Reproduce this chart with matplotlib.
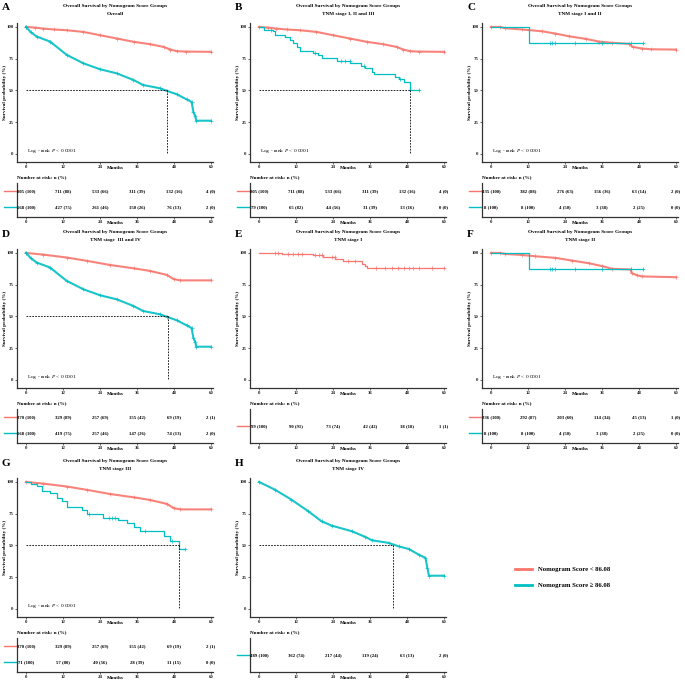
import matplotlib
matplotlib.use("Agg")
import matplotlib.pyplot as plt
from matplotlib.lines import Line2D

plt.rcParams['font.family'] = ['Liberation Serif', 'DejaVu Serif']
plt.rcParams['mathtext.fontset'] = 'custom'
plt.rcParams['mathtext.it'] = 'Liberation Serif:italic'
plt.rcParams['mathtext.rm'] = 'Liberation Serif'

RED = "#F8766D"
CYAN = "#00BFC4"
W, H = 685, 683

TITLE = "Overall Survival by Nomogram Score Groups"
months = [0, 12, 24, 36, 48, 60]

# survival curves (months, survival %)
a_low_t = [0, 3, 5.6, 9, 13.2, 18.6, 24, 29.5, 34.9, 40.3, 44.6, 46.8, 49, 52, 60]
a_low_s = [100, 99.5, 98.7, 98, 97.4, 96.1, 93.5, 90.9, 88.3, 86.4, 84.3, 82.2, 80.9, 80.6, 80.4]

a_high_t = [0, 1.5, 3.5, 7.8, 13.2, 18.6, 24, 29.4, 34.8, 38, 43.5, 45.6, 48.9, 52.1, 53.7, 54.3, 54.9, 55.2, 60]
a_high_s = [100, 96, 92.4, 88.5, 78, 71.4, 66.7, 63.5, 58.3, 54.3, 51.7, 49.8, 47, 43, 41, 33, 30, 26.2, 26.2]

b_high_t = [0, 1.5, 4.4, 5.1, 8.4, 10, 11, 12.2, 13.3, 17.6, 19.2, 20.3, 25.2, 29.6, 33, 34.5, 36.6, 37.2,
            44.2, 45.3, 47, 49.1, 51.8]
b_high_s = [100, 97.9, 96.5, 94, 92, 89.5, 87, 84.3, 81.2, 79.6, 77.8, 75.2, 73.4, 71.3, 69.2, 67.4, 64.8, 62.9,
            60.8, 59, 56.9, 50.4, 50.4]
b_high_cens = [4, 18, 26.5, 28, 29.5, 34, 45.8, 51.8]

c_low_t = [0, 2.9, 4.6, 10, 16.5, 20.9, 25.2, 30.7, 35, 39.3, 44.8, 45.9, 49.1, 52, 60]
c_low_s = [100, 100, 99, 98, 96.6, 94.8, 92.7, 90.6, 88.5, 87.5, 86.7, 84.3, 83, 82.4, 82.2]

c_high_t = [0, 12.2, 49.3]
c_high_s = [100, 87.5, 87.5]
c_high_cens = [19.2, 19.8, 20.6, 27.4, 36, 45.3, 49.3]

d_low_t = [0, 5.6, 13.2, 19.7, 27.3, 34.9, 40.3, 45.7, 47.9, 50, 60]
d_low_s = [100, 98.7, 96.4, 93.8, 90.5, 87.9, 85.8, 82.7, 79.4, 78.4, 78.4]

e_low_t = [0, 7.3, 17.6, 20.9, 24.7, 27.4, 33.4, 34.5, 35, 60]
e_low_s = [100, 99, 98.2, 97.1, 95.3, 94, 91.4, 90, 88.3, 88.3]
e_low_cens = [5.1, 6.2, 9.5, 11, 12.5, 13.8, 18, 19.5, 20.3, 23.6, 24.5, 29, 31, 38, 41, 43, 45, 47, 48.5, 50, 52, 56, 60]

f_low_t = [0, 2.9, 4.6, 10, 14.3, 20.9, 26.3, 31.7, 36.1, 39.3, 45.3, 45.6, 47.5, 49.1, 60]
f_low_s = [100, 100, 99.2, 98.4, 97.4, 96.1, 94, 91.9, 89.6, 87.5, 87, 84.1, 82.3, 81.5, 80.9]

g_high_t = [0, 1.5, 3.5, 5.1, 7.8, 10, 11.6, 13.2, 18.1, 19.7, 25.1, 30, 32.7, 34.9, 37, 44.6, 46.8, 49.5, 51.7]
g_high_s = [100, 98.7, 96.9, 92.9, 91.6, 87.2, 85.1, 80.6, 78, 74.6, 72, 70.2, 67.5, 64.9, 61.5, 57.6, 53.7,
            47.6, 47.6]
g_high_cens = [20.5, 27, 28, 29, 38.5, 47.5, 51.7]

h_high_t = [0, 5.1, 10.5, 16, 20.3, 23.6, 30.1, 34.5, 36.6, 42.1, 45.3, 48.6, 51.8, 54, 54.6, 55.1, 60]
h_high_s = [100, 94, 86.1, 76.9, 69, 65.6, 61.2, 56.7, 54.1, 52, 49.3, 47.2, 42.8, 40.2, 32.3, 26.2, 26.2]

# number at risk tables
risk_a_low = ["805 (100)", "711 (88)", "533 (66)", "311 (39)", "132 (16)", "4 (0)"]
risk_a_high = ["568 (100)", "427 (75)", "261 (46)", "150 (26)", "76 (13)", "2 (0)"]
risk_b_high = ["79 (100)", "65 (82)", "44 (56)", "31 (39)", "13 (16)", "0 (0)"]
risk_c_low = ["435 (100)", "382 (88)", "276 (63)", "156 (36)", "63 (14)", "2 (0)"]
risk_small_high = ["8 (100)", "8 (100)", "4 (50)", "3 (38)", "2 (25)", "0 (0)"]
risk_d_low = ["370 (100)", "329 (89)", "257 (69)", "155 (42)", "69 (19)", "2 (1)"]
risk_d_high = ["568 (100)", "419 (75)", "257 (46)", "147 (26)", "74 (13)", "2 (0)"]
risk_e_low = ["99 (100)", "90 (91)", "73 (74)", "42 (42)", "18 (18)", "1 (1)"]
risk_f_low = ["336 (100)", "292 (87)", "203 (60)", "114 (34)", "45 (13)", "1 (0)"]
risk_g_high = ["71 (100)", "57 (80)", "40 (56)", "28 (39)", "11 (15)", "0 (0)"]
risk_h_high = ["489 (100)", "362 (74)", "217 (44)", "119 (24)", "63 (13)", "2 (0)"]

COL_X = [0, 233, 465]
ROW_Y = [0, 226, 455]
XLIM = (-2.92, 60.65)

fig = plt.figure(figsize=(W / 100, H / 100), dpi=100)


def px_axes(x, y, w, h):
    return fig.add_axes([x / W, 1 - (y + h) / H, w / W, h / H])


def style_axis(ax):
    for s in ['top', 'right']:
        ax.spines[s].set_visible(False)
    for s in ['left', 'bottom']:
        ax.spines[s].set_linewidth(0.9)
        ax.spines[s].set_color('#333333')
    ax.tick_params(length=1.5, width=0.5, pad=1, labelsize=3.5, colors='#222222')
    for lab in ax.get_xticklabels() + ax.get_yticklabels():
        lab.set_fontweight('bold')


def draw_panel(col, row, letter, stage, curves, risk, median=None, pval=True):
    x0, y0 = COL_X[col], ROW_Y[row]
    fig.text((x0 + 2) / W, 1 - (y0 + 8) / H, letter, fontsize=8, fontweight='bold', ha='left', va='center')
    fig.text((x0 + 115) / W, 1 - (y0 + 6) / H, TITLE, fontsize=3.8, fontweight='bold', ha='center', va='center')
    fig.text((x0 + 115) / W, 1 - (y0 + 14) / H, stage, fontsize=3.8, fontweight='bold', ha='center', va='center')

    ax = px_axes(x0 + 17, y0 + 23, 196, 139)
    for c in curves:
        if c['steps']:
            ax.step(c['t'], c['s'], where='post', color=c['color'], lw=0.9)
        else:
            # dense curves: many tiny steps and censor ticks, drawn as a thick line
            ax.plot(c['t'], c['s'], color=c['color'], lw=1.5, alpha=0.9,
                    marker='+', ms=2.5, mew=0.5)
        if c.get('cens'):
            ys = [c['s'][max(i for i, tt in enumerate(c['t']) if tt <= ct)] for ct in c['cens']]
            ax.plot(c['cens'], ys, ls='none', marker='+', ms=2.5, mew=0.5, color=c['color'])
    if median is not None:
        ax.plot([0, median], [50, 50], ls=(0, (2, 1.5)), color='black', lw=0.6)
        ax.plot([median, median], [50, 0], ls=(0, (2, 1.5)), color='black', lw=0.6)
    if pval:
        ax.text(0.3, 2.5, r'Log - rank $\mathit{P}$ < 0.0001', fontsize=3.9, ha='left', va='center')
    ax.set_xlim(*XLIM)
    ax.set_ylim(-6.3, 103.1)
    ax.set_xticks(months)
    ax.set_yticks([0, 25, 50, 75, 100])
    style_axis(ax)
    ax.text(0.5, -0.045, 'Months', transform=ax.transAxes, fontsize=3.7, fontweight='bold',
            ha='center', va='center')
    ax.text(-12 / 196, 0.5, 'Survival probability (%)', transform=ax.transAxes, fontsize=3.7,
            fontweight='bold', rotation=90, ha='center', va='center')

    fig.text((x0 + 17) / W, 1 - (y0 + 177) / H, 'Number at risk: n (%)', fontsize=3.7, fontweight='bold',
             ha='left', va='center')
    tab = px_axes(x0 + 17, y0 + 183, 196, 34)
    tab.set_xlim(*XLIM)
    tab.set_ylim(0.375, 2.5)
    rows = [2, 1] if len(risk) == 2 else [1.45]
    for (vals, color), yy in zip(risk, rows):
        for t, v in zip(months, vals):
            tab.text(t, yy, v, fontsize=3.4, fontweight='bold', ha='center', va='center')
        tab.plot([-7.2, -2.92], [yy, yy], color=color, lw=1.0, clip_on=False)
    tab.set_xticks(months)
    tab.set_yticks([])
    style_axis(tab)
    tab.text(0.5, -0.18, 'Months', transform=tab.transAxes, fontsize=3.7, fontweight='bold',
             ha='center', va='center')


low = lambda t, s, steps=False, cens=None: dict(t=t, s=s, color=RED, steps=steps, cens=cens)
high = lambda t, s, steps=False, cens=None: dict(t=t, s=s, color=CYAN, steps=steps, cens=cens)

draw_panel(0, 0, 'A', 'Overall',
           [low(a_low_t, a_low_s), high(a_high_t, a_high_s)],
           [(risk_a_low, RED), (risk_a_high, CYAN)], median=45.8)
draw_panel(1, 0, 'B', 'TNM stage I, II and III',
           [low(a_low_t, a_low_s), high(b_high_t, b_high_s, True, b_high_cens)],
           [(risk_a_low, RED), (risk_b_high, CYAN)], median=49.1)
draw_panel(2, 0, 'C', 'TNM stage I and II',
           [low(c_low_t, c_low_s), high(c_high_t, c_high_s, True, c_high_cens)],
           [(risk_c_low, RED), (risk_small_high, CYAN)])
draw_panel(0, 1, 'D', 'TNM stage  III and IV',
           [low(d_low_t, d_low_s), high(a_high_t, a_high_s)],
           [(risk_d_low, RED), (risk_d_high, CYAN)], median=45.9)
draw_panel(1, 1, 'E', 'TNM stage I',
           [low(e_low_t, e_low_s, True, e_low_cens)],
           [(risk_e_low, RED)], pval=False)
draw_panel(2, 1, 'F', 'TNM stage II',
           [low(f_low_t, f_low_s), high(c_high_t, c_high_s, True, c_high_cens)],
           [(risk_f_low, RED), (risk_small_high, CYAN)])
draw_panel(0, 2, 'G', 'TNM stage III',
           [low(d_low_t, d_low_s), high(g_high_t, g_high_s, True, g_high_cens)],
           [(risk_d_low, RED), (risk_g_high, CYAN)], median=49.5)
draw_panel(1, 2, 'H', 'TNM stage IV',
           [high(h_high_t, h_high_s)],
           [(risk_h_high, CYAN)], median=43.4, pval=False)

# legend
legend_items = [("Nomogram Score < 86.08", RED, 569), ("Nomogram Score \u2265 86.08", CYAN, 585)]
for label, color, yy in legend_items:
    fig.add_artist(Line2D([515 / W, 532 / W], [1 - yy / H, 1 - yy / H], color=color, lw=2.0,
                          transform=fig.transFigure))
    fig.text(538 / W, 1 - yy / H, label, fontsize=4.8, fontweight='bold', ha='left', va='center')

fig.savefig('out.png', dpi=100, facecolor='white')
